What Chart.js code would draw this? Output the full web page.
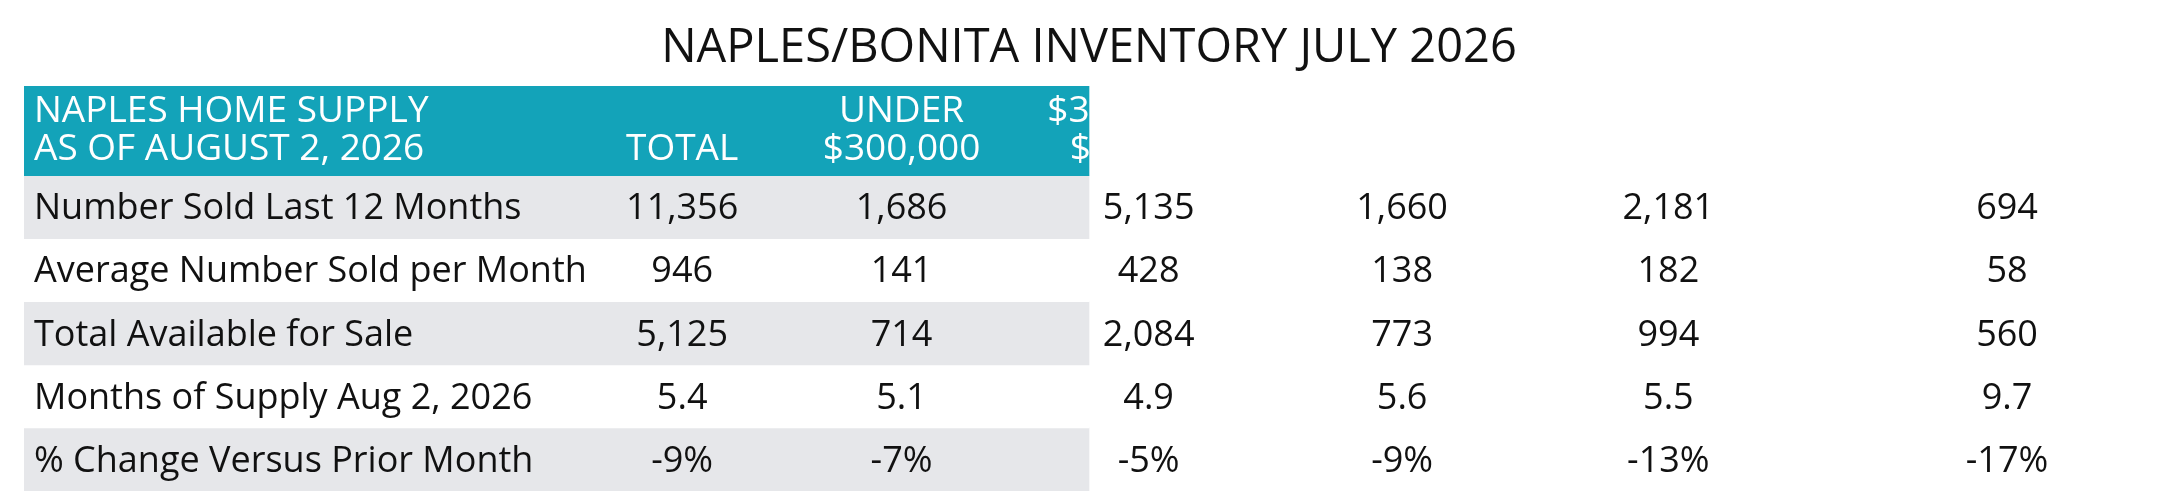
<!DOCTYPE html>
<html><head><meta charset="utf-8">
<script src="https://cdn.jsdelivr.net/npm/chart.js@4/dist/chart.umd.min.js"></script>
<style>html,body{margin:0;padding:0;background:#fff}#c{display:block}</style>
</head><body>
<div style="width:2175px;height:495px"><canvas id="c"></canvas></div>
<script>
const title = "NAPLES/BONITA INVENTORY JULY 2026";
const headerLeft = ["NAPLES HOME SUPPLY", "AS OF AUGUST 2, 2026"];
const columnHeaders = [["", "TOTAL"], ["UNDER", "$300,000"], ["$300,000 to", "$700,000"], ["$700,001 to", "$1,000,000"], ["$1,000,001 to", "$3,000,000"], ["OVER", "$3,000,000"]];
const rowLabels = ["Number Sold Last 12 Months", "Average Number Sold per Month", "Total Available for Sale", "Months of Supply Aug 2, 2026", "% Change Versus Prior Month"];
const rowValues = [
  ["11,356", "1,686", "5,135", "1,660", "2,181", "694"],
  ["946", "141", "428", "138", "182", "58"],
  ["5,125", "714", "2,084", "773", "994", "560"],
  ["5.4", "5.1", "4.9", "5.6", "5.5", "9.7"],
  ["-9%", "-7%", "-5%", "-9%", "-13%", "-17%"]
];
// layout (not data): column centres as fraction of table width, row heights in row units
const colCenters = [0.309, 0.412, 0.528, 0.647, 0.772, 0.931];
const rowHeights = [1.42, 1, 1, 1, 1, 1];
const fills = ["#13a3b9", "#e6e7ea", "#ffffff", "#e6e7ea", "#ffffff", "#e6e7ea"];
const FONT = '"Open Sans",sans-serif';

const bounds = [];
let acc = 0;
rowHeights.forEach(h => { bounds.push([acc, acc + h]); acc += h; });
const total = acc;

const textPlugin = {
  id: 'tableText',
  afterDatasetsDraw(chart) {
    const ctx = chart.ctx, y = chart.scales.y, area = chart.chartArea;
    const px = f => area.left + f * (area.right - area.left);
    const mid = r => y.getPixelForValue((bounds[r][0] + bounds[r][1]) / 2);
    ctx.save();
    ctx.fillStyle = '#111';
    ctx.font = '47px ' + FONT;
    ctx.textAlign = 'center'; ctx.textBaseline = 'alphabetic';
    ctx.fillText(title, (area.left + area.right) / 2, 62);
    const hy = mid(0);
    const lineOff = 19;
    ctx.fillStyle = '#fff';
    ctx.font = '500 37px ' + FONT;
    ctx.textBaseline = 'middle';
    ctx.textAlign = 'left';
    ctx.fillText(headerLeft[0], px(0) + 10, hy - lineOff);
    ctx.fillText(headerLeft[1], px(0) + 10, hy + lineOff);
    ctx.textAlign = 'center';
    columnHeaders.forEach((h, i) => {
      const cx = px(colCenters[i]);
      ctx.fillText(h[0], cx, hy - lineOff);
      ctx.fillText(h[1], cx, hy + lineOff);
    });
    ctx.fillStyle = '#111';
    ctx.font = '36px ' + FONT;
    rowLabels.forEach((lab, r) => {
      const ry = mid(r + 1) + 2;
      ctx.textAlign = 'left';
      ctx.fillText(lab, px(0) + 10, ry);
      ctx.textAlign = 'center';
      rowValues[r].forEach((v, i) => ctx.fillText(v, px(colCenters[i]), ry));
    });
    ctx.restore();
  }
};

new Chart(document.getElementById('c'), {
  type: 'bar',
  data: {
    labels: ['table'],
    datasets: bounds.map((b, i) => ({
      data: [b],
      backgroundColor: fills[i],
      borderWidth: 0,
      barPercentage: 1,
      categoryPercentage: 1,
      grouped: false
    }))
  },
  options: {
    responsive: true, maintainAspectRatio: false, animation: false,
    layout: { padding: { top: 86, bottom: 4, left: 24, right: 21 } },
    plugins: { legend: { display: false }, tooltip: { enabled: false } },
    scales: {
      x: { type: 'category', display: false, offset: false },
      y: { type: 'linear', min: 0, max: total, reverse: true, display: false }
    }
  },
  plugins: [textPlugin]
});
</script>
</body></html>
